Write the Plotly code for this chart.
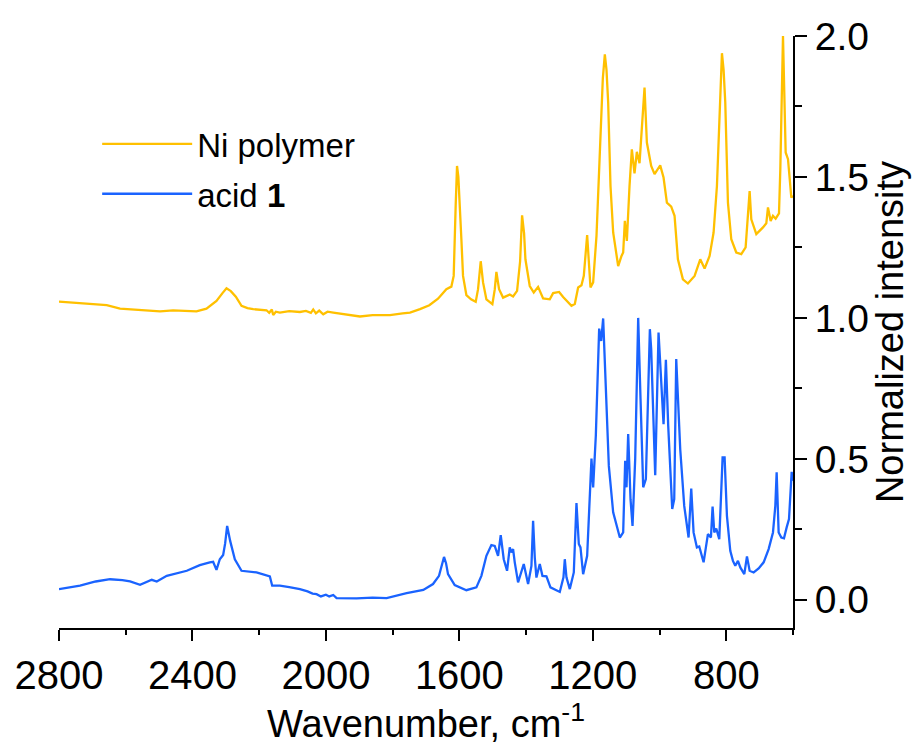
import plotly.graph_objects as go

# Ni polymer spectrum (wavenumber, normalized intensity + offset)
ni_wn = [2800, 2740, 2700, 2657, 2617, 2557, 2497, 2458, 2420, 2388, 2358, 2328, 2310, 2298, 2285, 2270,
         2253, 2235, 2218, 2195, 2178, 2170, 2162, 2158, 2150, 2138, 2110, 2078, 2060, 2045, 2038, 2030,
         2020, 2008, 1995, 1978, 1940, 1898, 1860, 1808, 1770, 1748, 1718, 1690, 1664, 1654, 1639, 1624,
         1617, 1611, 1607, 1603, 1599, 1594, 1589, 1579, 1565, 1551, 1544, 1536, 1529, 1519, 1501, 1494,
         1489, 1481, 1469, 1449, 1439, 1427, 1418, 1412, 1406, 1402, 1389, 1377, 1364, 1349, 1329, 1319,
         1301, 1289, 1264, 1254, 1244, 1234, 1227, 1217, 1207, 1199, 1189, 1179, 1170, 1164, 1159, 1154,
         1147, 1139, 1124, 1114, 1109, 1104, 1098, 1090, 1083, 1075, 1068, 1060, 1052, 1045, 1038, 1025,
         1015, 1008, 998, 988, 978, 965, 955, 945, 930, 915, 895, 878, 865, 850, 838, 828,
         820, 813, 808, 803, 795, 785, 770, 755, 742, 735, 730, 725, 710, 690, 680, 675,
         667, 660, 652, 642, 638, 630, 626, 622, 615, 610, 605, 600]
ni_int = [1.058, 1.052, 1.049, 1.045, 1.033, 1.027, 1.023, 1.027, 1.024, 1.023, 1.033, 1.060, 1.088, 1.105, 1.095, 1.075,
          1.043, 1.035, 1.031, 1.028, 1.027, 1.018, 1.030, 1.010, 1.022, 1.019, 1.024, 1.021, 1.025, 1.018, 1.030, 1.016,
          1.026, 1.013, 1.022, 1.019, 1.012, 1.005, 1.010, 1.010, 1.016, 1.019, 1.031, 1.045, 1.068, 1.081, 1.102, 1.111,
          1.149, 1.400, 1.539, 1.500, 1.421, 1.280, 1.149, 1.081, 1.066, 1.057, 1.102, 1.201, 1.126, 1.066, 1.049, 1.100,
          1.163, 1.102, 1.072, 1.083, 1.076, 1.096, 1.200, 1.364, 1.300, 1.208, 1.113, 1.090, 1.110, 1.069, 1.066, 1.088,
          1.092, 1.074, 1.043, 1.049, 1.108, 1.116, 1.149, 1.294, 1.108, 1.126, 1.291, 1.590, 1.850, 1.935, 1.880, 1.764,
          1.468, 1.303, 1.184, 1.220, 1.232, 1.344, 1.273, 1.468, 1.598, 1.513, 1.589, 1.549, 1.700, 1.817, 1.622, 1.539,
          1.510, 1.521, 1.541, 1.498, 1.409, 1.395, 1.362, 1.208, 1.137, 1.122, 1.149, 1.208, 1.175, 1.220, 1.303, 1.468,
          1.750, 1.939, 1.880, 1.764, 1.409, 1.279, 1.232, 1.226, 1.250, 1.350, 1.450, 1.350, 1.297, 1.321, 1.336, 1.392,
          1.344, 1.362, 1.352, 1.371, 1.527, 2.000, 1.800, 1.587, 1.563, 1.504, 1.427, 1.433]

# acid 1 spectrum
acid_wn = [2800, 2737, 2690, 2647, 2610, 2587, 2557, 2522, 2507, 2477, 2417, 2378, 2348, 2338, 2328, 2318,
           2308, 2302, 2296, 2287, 2273, 2253, 2208, 2168, 2161, 2138, 2110, 2078, 2055, 2040, 2028, 2015,
           2000, 1990, 1978, 1968, 1908, 1860, 1818, 1790, 1758, 1708, 1679, 1661, 1652, 1646, 1640, 1634,
           1614, 1579, 1549, 1534, 1519, 1504, 1494, 1484, 1476, 1467, 1457, 1449, 1444, 1439, 1434, 1424,
           1407, 1394, 1384, 1379, 1374, 1369, 1359, 1351, 1339, 1327, 1299, 1288, 1284, 1279, 1269, 1257,
           1249, 1242, 1237, 1229, 1217, 1204, 1199, 1191, 1181, 1175, 1169, 1159, 1152, 1139, 1119, 1109,
           1103, 1099, 1094, 1087, 1081, 1073, 1064, 1057, 1049, 1041, 1029, 1025, 1018, 1013, 1003, 996,
           988, 981, 974, 962, 956, 950, 938, 926, 913, 905, 898, 888, 881, 868, 855, 846,
           841, 836, 830, 821, 811, 805, 798, 788, 780, 773, 765, 758, 746, 738, 730, 718,
           703, 688, 673, 660, 653, 649, 643, 635, 627, 619, 612, 604, 600]
acid_int = [0.038, 0.050, 0.065, 0.073, 0.070, 0.065, 0.053, 0.071, 0.065, 0.085, 0.103, 0.123, 0.133, 0.135, 0.106, 0.144,
            0.159, 0.200, 0.262, 0.209, 0.144, 0.103, 0.097, 0.083, 0.050, 0.050, 0.045, 0.038, 0.030, 0.022, 0.020, 0.012,
            0.018, 0.012, 0.017, 0.006, 0.005, 0.008, 0.006, 0.015, 0.024, 0.035, 0.056, 0.085, 0.130, 0.152, 0.130, 0.091,
            0.052, 0.034, 0.044, 0.085, 0.156, 0.194, 0.191, 0.156, 0.229, 0.144, 0.103, 0.186, 0.168, 0.180, 0.133, 0.062,
            0.127, 0.056, 0.120, 0.280, 0.150, 0.079, 0.127, 0.085, 0.083, 0.044, 0.028, 0.080, 0.144, 0.080, 0.038, 0.097,
            0.343, 0.198, 0.186, 0.091, 0.156, 0.501, 0.399, 0.582, 0.962, 0.918, 0.998, 0.712, 0.475, 0.310, 0.221, 0.239,
            0.493, 0.399, 0.588, 0.357, 0.262, 0.499, 1.000, 0.712, 0.399, 0.428, 0.960, 0.889, 0.594, 0.442, 0.948, 0.794,
            0.623, 0.851, 0.617, 0.322, 0.357, 0.854, 0.534, 0.333, 0.221, 0.395, 0.239, 0.186, 0.189, 0.133, 0.233, 0.221,
            0.331, 0.239, 0.253, 0.215, 0.505, 0.505, 0.298, 0.174, 0.138, 0.121, 0.138, 0.115, 0.091, 0.154, 0.103, 0.097,
            0.111, 0.133, 0.180, 0.239, 0.333, 0.452, 0.239, 0.221, 0.218, 0.257, 0.286, 0.454, 0.422]

x_ticks = [2800, 2400, 2000, 1600, 1200, 800]
y_ticks = [0.0, 0.5, 1.0, 1.5, 2.0]

FONT = "Arial, Liberation Sans, sans-serif"

fig = go.Figure()
fig.add_trace(go.Scatter(x=ni_wn, y=ni_int, mode="lines", name="Ni polymer",
                         legendgroup="a", line=dict(color="#FFC000", width=2.3)))
fig.add_trace(go.Scatter(x=acid_wn, y=acid_int, mode="lines", name="acid <b>1</b>",
                         legendgroup="b", line=dict(color="#1A63FF", width=2.3)))

fig.update_layout(
    width=914, height=751,
    margin=dict(l=59, r=121, t=36, b=123, autoexpand=False),
    plot_bgcolor="white", paper_bgcolor="white",
    font=dict(family=FONT, color="black", size=38),
    showlegend=True,
    legend=dict(x=0.052, y=0.865, xanchor="left", yanchor="top",
                font=dict(size=33, family=FONT), itemwidth=90,
                tracegroupgap=4, traceorder="grouped",
                bgcolor="rgba(0,0,0,0)", borderwidth=0),
)
fig.update_xaxes(
    range=[2800, 600], tickmode="array", tickvals=x_ticks,
    ticktext=[str(v) for v in x_ticks],
    ticks="outside", ticklen=11, tickwidth=2, tickcolor="black",
    showline=True, linecolor="black", linewidth=2, mirror=False,
    showgrid=False, zeroline=False,
    tickfont=dict(size=40, family=FONT),
    minor=dict(dtick=200, tick0=800, ticks="outside", ticklen=5, tickwidth=2, tickcolor="black", showgrid=False),
    title=dict(text="Wavenumber, cm<sup>-1</sup>", font=dict(size=38, family=FONT), standoff=12),
)
fig.update_yaxes(
    side="right", range=[-0.1, 2.0], tickmode="array", tickvals=y_ticks,
    ticktext=["%.1f" % v for v in y_ticks],
    ticks="outside", ticklen=12, tickwidth=2, tickcolor="black",
    showline=True, linecolor="black", linewidth=2, mirror=False,
    showgrid=False, zeroline=False,
    tickfont=dict(size=39, family=FONT),
    minor=dict(dtick=0.25, tick0=0, ticks="outside", ticklen=7, tickwidth=2, tickcolor="black", showgrid=False),
    title=dict(text="Normalized intensity", font=dict(size=38, family=FONT), standoff=6),
)

fig.write_html("out.html")
